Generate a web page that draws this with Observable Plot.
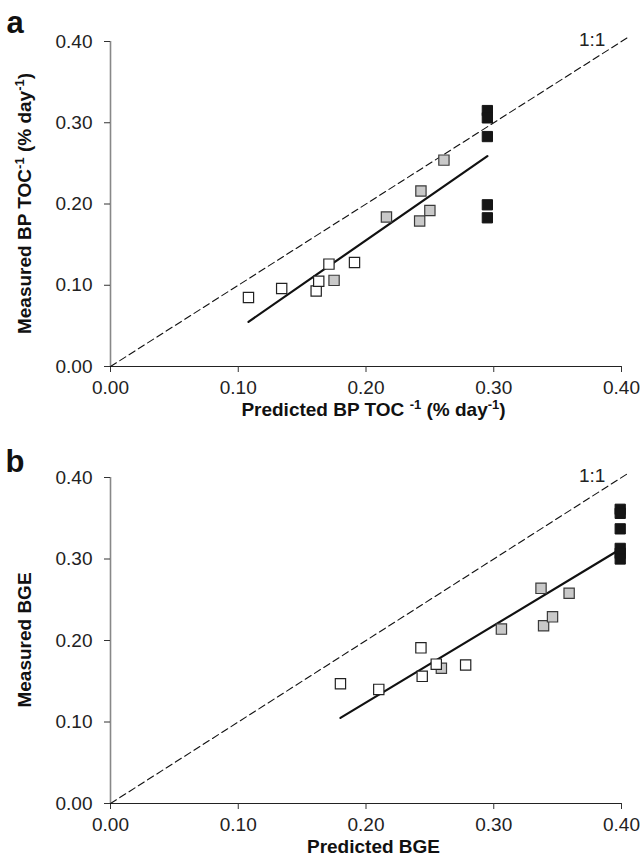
<!DOCTYPE html>
<html>
<head>
<meta charset="utf-8">
<script src="https://cdn.jsdelivr.net/npm/d3@7"></script>
<script src="https://cdn.jsdelivr.net/npm/@observablehq/plot@0.6"></script>
<style>
  html, body { margin: 0; padding: 0; background: #fff; }
  #chart { width: 644px; }
  #chart svg { display: block; }
</style>
</head>
<body>
<div id="chart"></div>
<script>
// ---- Data ----
const axisTicks = [0, 0.1, 0.2, 0.3, 0.4];
const oneToOne = [0, 0.405];

// Panel a: Predicted vs measured BP TOC^-1
const aWhiteX = [0.108, 0.134, 0.161, 0.163, 0.171, 0.191];
const aWhiteY = [0.085, 0.096, 0.093, 0.105, 0.126, 0.128];
const aGreyX  = [0.175, 0.216, 0.242, 0.243, 0.250, 0.261];
const aGreyY  = [0.106, 0.184, 0.179, 0.216, 0.192, 0.254];
const aBlackX = [0.295, 0.295, 0.295, 0.295, 0.295];
const aBlackY = [0.315, 0.306, 0.283, 0.199, 0.183];
const aFitX = [0.108, 0.295];
const aFitY = [0.055, 0.259];

// Panel b: Predicted vs measured BGE
const bWhiteX = [0.180, 0.210, 0.243, 0.244, 0.255, 0.278];
const bWhiteY = [0.147, 0.140, 0.191, 0.156, 0.171, 0.170];
const bGreyX  = [0.259, 0.306, 0.337, 0.339, 0.346, 0.359];
const bGreyY  = [0.166, 0.214, 0.264, 0.218, 0.229, 0.258];
const bBlackX = [0.399, 0.399, 0.399, 0.399, 0.399, 0.399];
const bBlackY = [0.361, 0.356, 0.337, 0.313, 0.307, 0.300];
const bFitX = [0.180, 0.398];
const bFitY = [0.105, 0.311];

const oneLabel = "1:1";
const oneLabelX = 0.377, oneLabelY = 0.394;

const FONT = "'Liberation Sans', Arial, Helvetica, sans-serif";

function pts(X, Y) { return X.map((x, i) => ({x, y: Y[i]})); }

function panel(opt) {
  const W = 644;
  const plot = Plot.plot({
    width: W,
    height: opt.height,
    marginLeft: 110,
    marginRight: 23,
    marginTop: opt.marginTop,
    marginBottom: opt.marginBottom,
    style: { fontFamily: FONT, fontSize: "19px", color: "#222", background: "#fff", overflow: "visible" },
    x: { domain: [0, 0.4] },
    y: { domain: [0, 0.4] },
    marks: [
      Plot.ruleX([0], { y1: 0, y2: 0.4, stroke: "#888", strokeWidth: 1.6 }),
      Plot.ruleY([0], { x1: 0, x2: 0.4, stroke: "#222", strokeWidth: 1.2 }),
      Plot.axisY({ ticks: axisTicks, tickFormat: d => d.toFixed(2), tickSize: 6, tickPadding: 12, label: null, fontSize: 19, stroke: "#333" }),
      Plot.axisX({ ticks: axisTicks, tickFormat: d => d.toFixed(2), tickSize: 6, tickPadding: 8, label: null, fontSize: 19, stroke: "#333" }),
      Plot.line(oneToOne.map(v => ({x: v, y: v})), { x: "x", y: "y", stroke: "#111", strokeWidth: 1.1, strokeDasharray: "7,4" }),
      Plot.line(pts(opt.fitX, opt.fitY), { x: "x", y: "y", stroke: "#111", strokeWidth: 2.2 }),
      Plot.dot(pts(opt.greyX, opt.greyY), { x: "x", y: "y", symbol: "square", r: 5.8, fill: "#c9c9c9", stroke: "#3a3a3a", strokeWidth: 1.2 }),
      Plot.dot(pts(opt.whiteX, opt.whiteY), { x: "x", y: "y", symbol: "square", r: 5.8, fill: "#fff", stroke: "#222", strokeWidth: 1.2 }),
      Plot.dot(pts(opt.blackX, opt.blackY), { x: "x", y: "y", symbol: "square", r: 5.8, fill: "#151515", stroke: "#151515", strokeWidth: 1 }),
      Plot.text([{x: oneLabelX, y: oneLabelY, t: oneLabel}], { x: "x", y: "y", text: "t", fontSize: 19, fill: "#222", textAnchor: "middle", lineAnchor: "bottom" })
    ]
  });

  const svg = d3.select(plot);
  const x0 = 110, x1 = W - 23;
  const yTop = opt.marginTop, yBot = opt.height - opt.marginBottom;

  // Panel letter
  svg.append("text")
    .attr("x", 15).attr("y", opt.letterY)
    .attr("font-family", FONT).attr("font-size", 31).attr("font-weight", "bold")
    .attr("fill", "#111")
    .text(opt.letter);

  // X title
  const xt = svg.append("text")
    .attr("x", (x0 + x1) / 2 + 8).attr("y", yBot + 50)
    .attr("text-anchor", "middle")
    .attr("font-family", FONT).attr("font-size", 19).attr("font-weight", "bold")
    .attr("fill", "#111");
  opt.xTitle.forEach(([s, sup]) => {
    const t = xt.append("tspan").text(s);
    if (sup) t.attr("font-size", 13).attr("baseline-shift", "super");
  });

  // Y title (rotated)
  const yt = svg.append("text")
    .attr("transform", `translate(31,${(yTop + yBot) / 2}) rotate(-90)`)
    .attr("text-anchor", "middle")
    .attr("font-family", FONT).attr("font-size", 19).attr("font-weight", "bold")
    .attr("fill", "#111");
  opt.yTitle.forEach(([s, sup]) => {
    const t = yt.append("tspan").text(s);
    if (sup) t.attr("font-size", 13).attr("baseline-shift", "super");
  });

  return plot;
}

const chart = document.getElementById("chart");
chart.appendChild(panel({
  height: 430, marginTop: 41, marginBottom: 64, letter: "a", letterY: 33,
  whiteX: aWhiteX, whiteY: aWhiteY, greyX: aGreyX, greyY: aGreyY, blackX: aBlackX, blackY: aBlackY,
  fitX: aFitX, fitY: aFitY,
  xTitle: [["Predicted BP TOC "], ["-1", true], [" (% day"], ["-1", true], [")"]],
  yTitle: [["Measured BP TOC"], ["-1", true], [" (% day"], ["-1", true], [")"]]
}));
chart.appendChild(panel({
  height: 434, marginTop: 47, marginBottom: 61, letter: "b", letterY: 42,
  whiteX: bWhiteX, whiteY: bWhiteY, greyX: bGreyX, greyY: bGreyY, blackX: bBlackX, blackY: bBlackY,
  fitX: bFitX, fitY: bFitY,
  xTitle: [["Predicted BGE"]],
  yTitle: [["Measured BGE"]]
}));
</script>
</body>
</html>
